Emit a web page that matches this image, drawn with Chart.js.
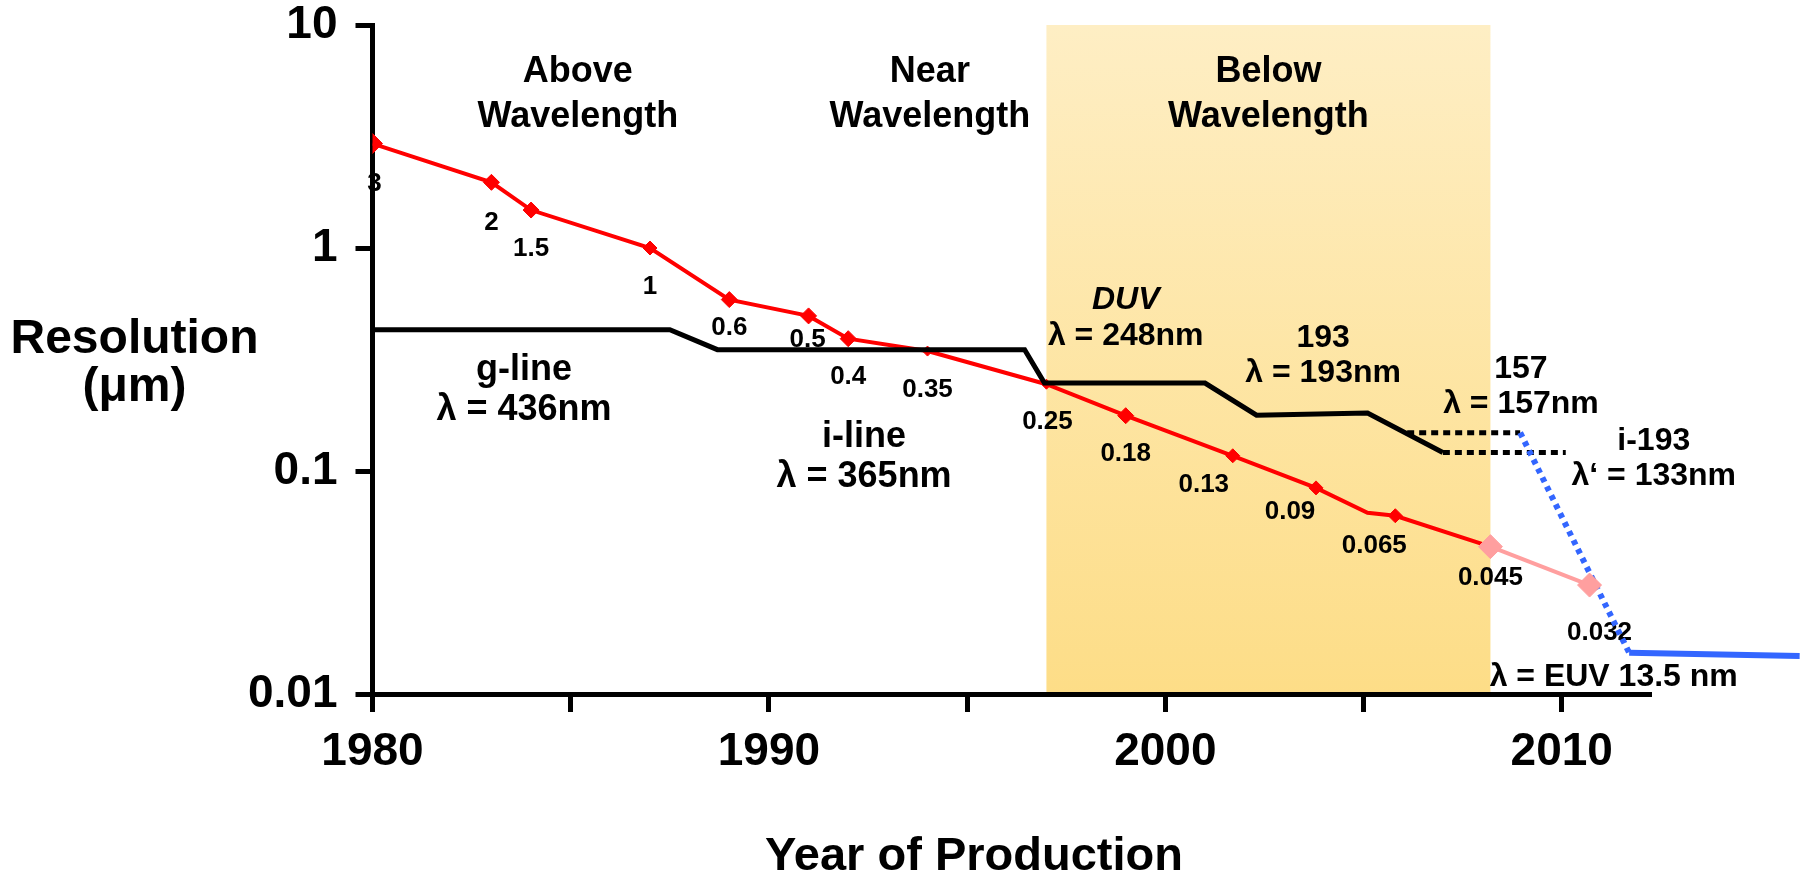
<!DOCTYPE html>
<html>
<head>
<meta charset="utf-8">
<title>Resolution vs Year of Production</title>
<script src="https://cdn.jsdelivr.net/npm/chart.js@4.4.0/dist/chart.umd.min.js"></script>
<style>
  html, body { margin: 0; padding: 0; background: #ffffff; }
  #wrap { width: 1800px; height: 876px; }
</style>
</head>
<body>
<div id="wrap"><canvas id="grafico" width="1800" height="876"></canvas></div>
<script>
// ===== Datos =====
// Resolución de producción (línea roja)
const redYears  = [1980, 1983, 1984, 1987, 1989, 1991, 1992, 1994, 1997, 1999, 2001.7, 2003.8, 2005.1, 2005.8, 2008.2];
const redValues = [2.94, 1.97, 1.48, 1.0, 0.587, 0.496, 0.392, 0.345, 0.245, 0.177, 0.117, 0.084, 0.065, 0.063, 0.0458];
const redLabels = ["3", "2", "1.5", "1", "0.6", "0.5", "0.4", "0.35", "0.25", "0.18", "0.13", "0.09", "", "0.065", ""];

// Proyección (rosa)
const pinkYears  = [2008.2, 2010.7];
const pinkValues = [0.0458, 0.0308];
const pinkLabels = ["0.045", "0.032"];

// Longitud de onda de exposición (línea negra escalonada)
const lambdaYears  = [1980, 1987.5, 1988.7, 1996.45, 1996.95, 2001.0, 2002.3, 2005.1, 2007.0];
const lambdaValues = [0.43, 0.43, 0.35, 0.35, 0.248, 0.248, 0.178, 0.182, 0.121];

// 157 nm e i-193 (punteadas negras)
const f2Years   = [2006.1, 2008.95];
const f2Values  = [0.1485, 0.1485];
const i193Years  = [2007.0, 2010.1];
const i193Values = [0.121, 0.121];

// EUV (azul)
const euvDropYears  = [2008.95, 2011.7];
const euvDropValues = [0.1485, 0.0153];
const euvYears  = [2011.7, 2016.0];
const euvValues = [0.0153, 0.0148];

// Zona "Below Wavelength"
const belowRange = [1997.0, 2008.2];

// Ticks
const xTicks = [1980, 1985, 1990, 1995, 2000, 2005, 2010];
const yTicks = [0.01, 0.1, 1, 10];

// ===== Estilo / maquetación =====
const FONT = "'Liberation Sans', Arial, Helvetica, sans-serif";
const redRadius = [10, 8, 8, 7, 8, 8, 8, 5, 5, 8, 7, 7, 0, 7, 0];
const redLabelOffsets = [[2, 40], [0, 40], [0, 39], [0, 39], [0, 28], [-1, 24], [0, 38], [0, 39], [1, 38], [0, 38], [-29, 29], [-26, 24], [0, 0], [-21, 30], [0, 0]];
const pinkLabelOffsets = [[0, 31], [10, 48]];

// textos: año/valor = línea base de la primera línea
const textos = [
  { lines: ["Above", "Wavelength"], year: 1985.18, value: 5.55, size: 36, gap: 45 },
  { lines: ["Near", "Wavelength"], year: 1994.06, value: 5.55, size: 36, gap: 45 },
  { lines: ["Below", "Wavelength"], year: 2002.6, value: 5.55, size: 36, gap: 45 },
  { lines: ["g-line", "λ = 436nm"], year: 1983.82, value: 0.256, size: 36, gap: 40 },
  { lines: ["i-line", "λ = 365nm"], year: 1992.4, value: 0.1285, size: 36, gap: 40 },
  { lines: ["DUV", "λ = 248nm"], year: 1999.0, value: 0.5325, size: 32, gap: 36, italicFirst: true },
  { lines: ["193", "λ = 193nm"], year: 2003.98, value: 0.3608, size: 32, gap: 35 },
  { lines: ["157", "λ = 157nm"], year: 2008.97, value: 0.2604, size: 32, gap: 35 },
  { lines: ["i-193", "λ‘ = 133nm"], year: 2012.32, value: 0.1242, size: 32, gap: 35 },
  { lines: ["λ = EUV 13.5 nm"], year: 2011.31, value: 0.01086, size: 32, gap: 35 }
];

const toXY = (xs, ys) => xs.map((x, i) => ({ x: x, y: ys[i] }));

// quitar el relleno automático que Chart.js añade para las etiquetas
const sinPadding = s => { s.paddingTop = 0; s.paddingBottom = 0; s.paddingLeft = 0; s.paddingRight = 0; };

// Plugin: fondo, banda, textos y títulos de ejes
const decoracion = {
  id: "decoracion",
  beforeDraw(chart) {
    const { ctx, chartArea, scales } = chart;
    const sx = scales.x, sy = scales.y;
    ctx.save();
    ctx.fillStyle = "#ffffff";
    ctx.fillRect(0, 0, chart.width, chart.height);

    // banda amarilla con degradado
    const x0 = sx.getPixelForValue(belowRange[0]);
    const x1 = sx.getPixelForValue(belowRange[1]);
    const yTop = sy.getPixelForValue(yTicks[yTicks.length - 1]);
    const yBot = sy.getPixelForValue(yTicks[0]);
    const grad = ctx.createLinearGradient(0, yTop, 0, yBot);
    grad.addColorStop(0, "#feeec4");
    grad.addColorStop(1, "#fddd87");
    ctx.fillStyle = grad;
    ctx.fillRect(x0, yTop, x1 - x0, yBot - yTop);

    // etiquetas de valores
    ctx.fillStyle = "#000000";
    ctx.textAlign = "center";
    ctx.textBaseline = "middle";
    ctx.font = "bold 26px " + FONT;
    redLabels.forEach((t, i) => {
      if (!t) return;
      const px = sx.getPixelForValue(redYears[i]) + redLabelOffsets[i][0];
      const py = sy.getPixelForValue(redValues[i]) + redLabelOffsets[i][1];
      ctx.fillText(t, px, py);
    });
    pinkLabels.forEach((t, i) => {
      const px = sx.getPixelForValue(pinkYears[i]) + pinkLabelOffsets[i][0];
      const py = sy.getPixelForValue(pinkValues[i]) + pinkLabelOffsets[i][1];
      ctx.fillText(t, px, py);
    });

    // anotaciones
    ctx.textBaseline = "alphabetic";
    textos.forEach(tx => {
      const px = sx.getPixelForValue(tx.year);
      const py = sy.getPixelForValue(tx.value);
      tx.lines.forEach((line, k) => {
        const ital = tx.italicFirst && k === 0 ? "italic " : "";
        ctx.font = ital + "bold " + tx.size + "px " + FONT;
        ctx.fillText(line, px, py + k * tx.gap);
      });
    });

    // títulos de ejes
    ctx.font = "bold 48px " + FONT;
    ctx.fillText("Resolution", chartArea.left - 238, 353);
    ctx.fillText("(μm)", chartArea.left - 238, 401);
    ctx.font = "bold 47px " + FONT;
    ctx.fillText("Year of Production", 974, 870);
    ctx.restore();
  }
};

const grafico = new Chart(document.getElementById("grafico").getContext("2d"), {
  type: "scatter",
  data: {
    datasets: [
      {
        label: "λ",
        data: toXY(lambdaYears, lambdaValues),
        showLine: true, borderColor: "#000000", borderWidth: 5,
        pointRadius: 0, order: 0
      },
      {
        label: "proyección",
        data: toXY(pinkYears, pinkValues),
        showLine: true, borderColor: "#ff9f9f", backgroundColor: "#ff9f9f", borderWidth: 4,
        pointStyle: "rectRot", pointRadius: 12, pointBorderWidth: 1, pointBorderColor: "#ff9f9f", order: 1
      },
      {
        label: "resolución",
        data: toXY(redYears, redValues),
        showLine: true, borderColor: "#ff0000", backgroundColor: "#ff0000", borderWidth: 4,
        pointStyle: "rectRot", pointRadius: redRadius, pointBorderWidth: 1, pointBorderColor: "#ff0000", order: 2
      },
      {
        label: "EUV caída",
        data: toXY(euvDropYears, euvDropValues),
        showLine: true, borderColor: "#3366ff", borderWidth: 6, borderDash: [5, 5],
        pointRadius: 0, order: 3
      },
      {
        label: "EUV",
        data: toXY(euvYears, euvValues),
        showLine: true, borderColor: "#3366ff", borderWidth: 6,
        pointRadius: 0, order: 3, clip: false
      },
      {
        label: "157",
        data: toXY(f2Years, f2Values),
        showLine: true, borderColor: "#000000", borderWidth: 5, borderDash: [7, 5],
        pointRadius: 0, order: 4
      },
      {
        label: "i-193",
        data: toXY(i193Years, i193Values),
        showLine: true, borderColor: "#000000", borderWidth: 5, borderDash: [7, 5],
        pointRadius: 0, order: 4
      }
    ]
  },
  options: {
    responsive: false,
    devicePixelRatio: 1,
    animation: false,
    events: [],
    layout: { padding: { top: 25, right: 151, bottom: 0, left: 0 } },
    plugins: {
      legend: { display: false },
      tooltip: { enabled: false }
    },
    elements: { line: { tension: 0 } },
    scales: {
      x: {
        type: "linear",
        min: 1980,
        max: 2012.2,
        afterBuildTicks: s => { s.ticks = xTicks.map(v => ({ value: v })); },
        afterFit: s => { s.height = 182; sinPadding(s); },
        grid: { display: true, drawOnChartArea: false, drawTicks: true, tickLength: 18, lineWidth: 5, color: "#000000" },
        border: { display: true, width: 5, color: "#000000" },
        ticks: {
          autoSkip: false, maxRotation: 0, padding: 17, color: "#000000",
          font: { family: FONT, size: 46, weight: "bold", lineHeight: 1 },
          callback: v => (v % 10 === 0 ? String(v) : "")
        }
      },
      y: {
        type: "logarithmic",
        min: 0.01,
        max: 10,
        afterBuildTicks: s => { s.ticks = yTicks.map(v => ({ value: v })); },
        afterFit: s => { s.width = 372.5; sinPadding(s); },
        grid: { display: true, drawOnChartArea: false, drawTicks: true, tickLength: 17, lineWidth: 5, color: "#000000" },
        border: { display: true, width: 5, color: "#000000" },
        ticks: {
          padding: 18, color: "#000000",
          font: { family: FONT, size: 46, weight: "bold", lineHeight: 1 },
          callback: v => String(v)
        }
      }
    }
  },
  plugins: [decoracion]
});

window.__grafico = grafico;
</script>
</body>
</html>
